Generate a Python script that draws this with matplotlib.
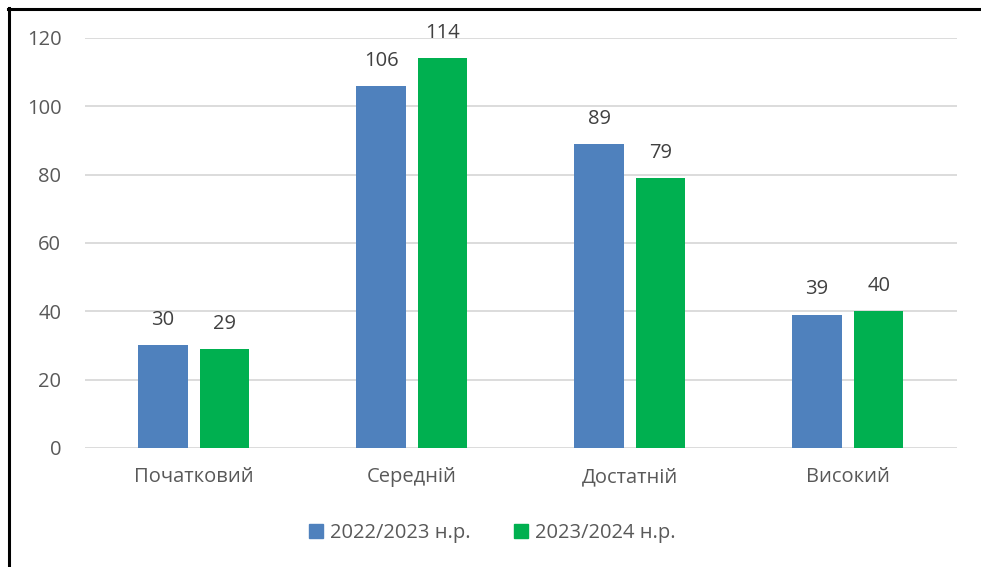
import numpy as np
import matplotlib.pyplot as plt
from matplotlib.lines import Line2D

categories = ['Початковий', 'Середній', 'Достатній', 'Високий']
series_names = ['2022/2023 н.р.', '2023/2024 н.р.']
values_2022 = [30, 106, 89, 39]
values_2023 = [29, 114, 79, 40]

blue = '#4F81BD'
green = '#00B050'
text_color = '#595959'

plt.rcParams['font.family'] = ['Open Sans', 'DejaVu Sans']

fig = plt.figure(figsize=(9.81, 5.67), dpi=100)
ax = fig.add_axes([0.0866, 0.2099, 0.8889, 0.7231])

x = np.arange(len(categories))
w = 0.225
off = 0.142
b1 = ax.bar(x - off, values_2022, w, color=blue, label=series_names[0], zorder=3)
b2 = ax.bar(x + off, values_2023, w, color=green, label=series_names[1], zorder=3)

for bars in (b1, b2):
    ax.bar_label(bars, padding=11, fontsize=14.5, color='#404040')

ax.set_xlim(-0.5, len(categories) - 0.5)
ax.set_ylim(0, 120)
ax.set_yticks(range(0, 121, 20))
ax.set_xticks(x)
ax.set_xticklabels(categories)
ax.yaxis.grid(True, color='#D9D9D9', linewidth=1.3, zorder=0)
ax.tick_params(axis='both', length=0, labelsize=14.5, colors=text_color)
ax.tick_params(axis='y', pad=17)
ax.tick_params(axis='x', pad=14)
for s in ax.spines.values():
    s.set_visible(False)

handles = [Line2D([], [], marker='s', linestyle='', markersize=10, color=c) for c in (blue, green)]
fig.legend(handles, series_names, loc='center', bbox_to_anchor=(0.5, 0.06), ncol=2,
           frameon=False, fontsize=14.5, labelcolor=text_color, handletextpad=0.2,
           columnspacing=2.0, handlelength=1.0)

# outer border (top and left edges)
fig.add_artist(Line2D([8 / 981, 1.0], [1 - 9 / 567, 1 - 9 / 567], color='black', linewidth=2.2))
fig.add_artist(Line2D([9 / 981, 9 / 981], [0, 1 - 8 / 567], color='black', linewidth=2.2))

fig.savefig('out.png', dpi=100)
